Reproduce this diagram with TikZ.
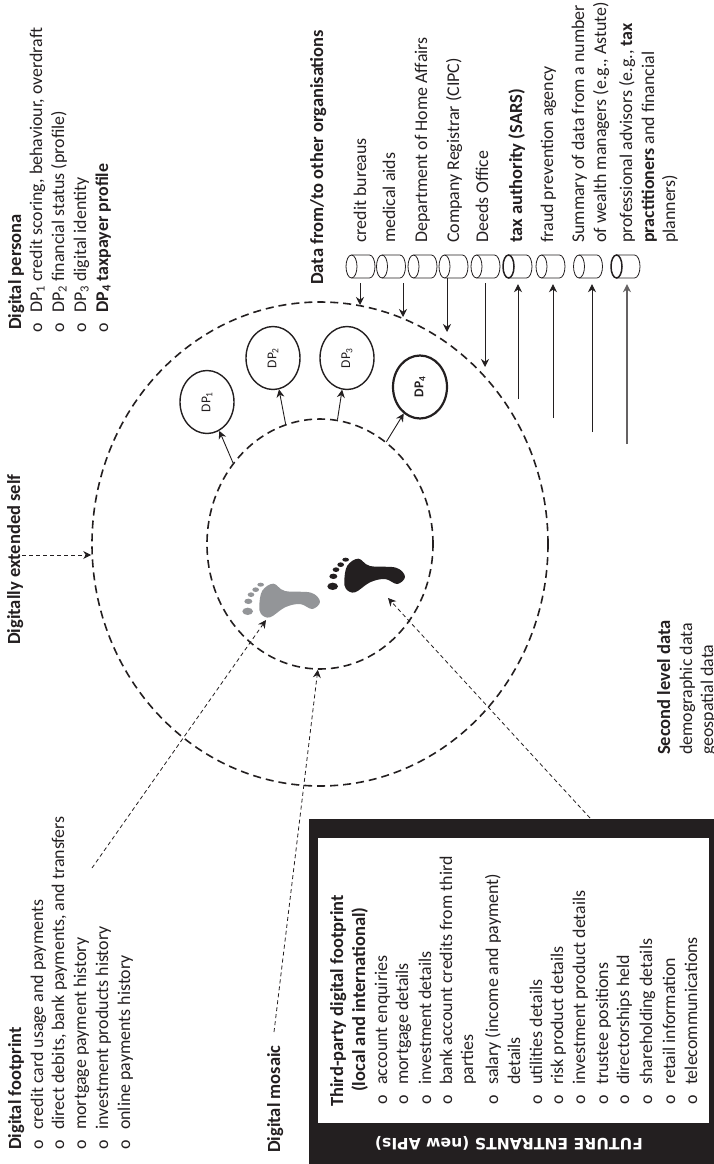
\documentclass[tikz,border=0pt]{standalone}
\usepackage{fontspec}
\setmainfont{Carlito}
\newfontfamily\bannerfont{DejaVu Sans}
\usetikzlibrary{shapes.geometric, arrows.meta}
\definecolor{inkblack}{HTML}{231F20}
\definecolor{footgrey}{HTML}{939598}
\newcommand{\bul}{\makebox[20pt][l]{o}}
\tikzstyle{vtext} = [
    rotate=90,
    anchor=base west,
    inner sep=0pt,
    text=inkblack,
    font=\fontsize{17.9}{21}\selectfont
]
\tikzstyle{vhead} = [
    vtext,
    font=\fontsize{18.5}{22}\selectfont\bfseries
]
\tikzstyle{ring} = [
    ellipse,
    draw=inkblack,
    line width=1.6pt,
    dash pattern=on 8pt off 5pt,
    inner sep=0pt
]
\tikzstyle{persona} = [
    ellipse,
    draw=inkblack,
    line width=1.4pt,
    minimum width=54pt,
    minimum height=63pt,
    inner sep=0pt,
    text=inkblack,
    font=\fontsize{13.5}{15}\selectfont
]
\tikzstyle{store} = [
    rectangle,
    minimum width=29pt,
    minimum height=23pt,
    inner sep=0pt
]
\tikzstyle{arrow} = [
    draw=inkblack,
    line width=0.9pt,
    ->
]
\tikzstyle{dasharrow} = [
    draw=inkblack,
    line width=0.8pt,
    dash pattern=on 4pt off 3pt,
    ->
]
\begin{document}
\begin{tikzpicture}[x=1pt, y=-1pt, >={Stealth[length=8pt,width=8pt]}]
        \useasboundingbox (0,0) rectangle (714,1164);

        % third-party box
        \fill[inkblack] (309,819) rectangle (714,1164);
        \fill[white] (318,838) rectangle (709,1123);
        \node (entrants) [rotate=180, text=white, inner sep=0pt, font=\bannerfont\fontsize{15.6}{18}\selectfont\bfseries] at (509,1143) {FUTURE ENTRANTS (new APIs)};

        % rings and personas
        \node (outer) [ring, minimum width=456pt, minimum height=484pt] at (320,544) {};
        \node (inner) [ring, minimum width=226pt, minimum height=250pt] at (320,544) {};
        \node (dp1) [persona] at (207,402) {\rotatebox{90}{DP\textsubscript{1}}};
        \node (dp2) [persona] at (273,358) {\rotatebox{90}{DP\textsubscript{2}}};
        \node (dp3) [persona] at (347,358) {\rotatebox{90}{DP\textsubscript{3}}};
        \node (dp4) [persona, line width=2.2pt, font=\fontsize{13.5}{15}\selectfont\bfseries] at (420,387) {\rotatebox{90}{DP\textsubscript{4}}};

        \draw[arrow] (inner.137) -- (dp1);
        \draw[arrow] (inner.106) -- (dp2);
        \draw[arrow] (inner.82) -- (dp3);
        \draw[arrow] (inner.57) -- (dp4);

        % feet
        \foreach \fx/\fy/\col in {235/570/footgrey, 320/545/inkblack} {
            \begin{scope}[shift={(\fx,\fy)}, x=0.3333pt, y=-0.3333pt]
                \fill[\col] plot[smooth cycle, tension=0.6] coordinates {(73,105) (82,62) (115,41) (150,63) (228,68) (255,95) (232,117) (195,102) (150,112) (105,142) (78,132)};
                \fill[\col] (38,124) ellipse [x radius=16, y radius=11];
                \fill[\col] (40,94) ellipse [x radius=12, y radius=8];
                \fill[\col] (48,74) ellipse [x radius=10, y radius=7];
                \fill[\col] (62,59) ellipse [x radius=10, y radius=7];
                \fill[\col] (77,44) ellipse [x radius=10, y radius=6];
            \end{scope}
        }

        % digital persona
        \node (personahead) [vhead] at (21,330) {Digital persona};
        \node (persona1) [vtext] at (42,333) {\bul DP\textsubscript{1} credit scoring, behaviour, overdraft};
        \node (persona2) [vtext] at (64,333) {\bul DP\textsubscript{2} financial status (profile)};
        \node (persona3) [vtext] at (86,333) {\bul DP\textsubscript{3} digital identity};
        \node (persona4) [vtext] at (108,333) {\bul \textbf{DP\textsubscript{4} taxpayer profile}};

        % digitally extended self
        \node (selfhead) [vhead] at (20,645) {Digitally extended self};
        \coordinate (selfstart) at (22,555);
        \draw[dasharrow] (selfstart) -- (outer.west |- selfstart);

        % digital footprint
        \node (printhead) [vhead] at (21,1150) {Digital footprint};
        \node (print1) [vtext] at (43,1150) {\bul credit card usage and payments};
        \node (print2) [vtext] at (64,1150) {\bul direct debits, bank payments, and transfers};
        \node (print3) [vtext] at (86,1150) {\bul mortgage payment history};
        \node (print4) [vtext] at (108,1150) {\bul investment products history};
        \node (print5) [vtext] at (130,1150) {\bul online payments history};
        \coordinate (printstart) at (92,868);
        \coordinate (printend) at (266,620);
        \draw[dasharrow] (printstart) -- (printend);

        % digital mosaic
        \node (mosaichead) [vhead] at (280,1153) {Digital mosaic};
        \coordinate (mosaicstart) at (274,1032);
        \draw[dasharrow] (mosaicstart) -- (inner.269);

        % third-party list
        \node (thirdhead) [vhead] at (343,1107) {Third-party digital footprint};
        \node (thirdsub) [vhead] at (365,1092) {(local and international)};
        \node (third1) [vtext] at (387,1105) {\bul account enquiries};
        \node (third2) [vtext] at (408,1105) {\bul mortgage details};
        \node (third3) [vtext] at (431,1105) {\bul investment details};
        \node (third4) [vtext] at (452,1105) {\bul bank account credits from third};
        \node (third4b) [vtext] at (473,1085) {parties};
        \node (third5) [vtext] at (498,1105) {\bul salary (income and payment)};
        \node (third5b) [vtext] at (520,1085) {details};
        \node (third6) [vtext] at (542,1105) {\bul utilities details};
        \node (third7) [vtext] at (563,1105) {\bul risk product details};
        \node (third8) [vtext] at (585,1105) {\bul investment product details};
        \node (third9) [vtext] at (608,1105) {\bul trustee positions};
        \node (third10) [vtext] at (629,1105) {\bul directorships held};
        \node (third11) [vtext] at (652,1105) {\bul shareholding details};
        \node (third12) [vtext] at (675,1105) {\bul retail information};
        \node (third13) [vtext] at (697,1105) {\bul telecommunications};
        \coordinate (thirdstart) at (590,818);
        \coordinate (thirdend) at (388,598);
        \draw[dasharrow] (thirdstart) -- (thirdend);

        % second level data
        \node (secondhead) [vhead] at (670,755) {Second level data};
        \node (second1) [vtext] at (692,755) {demographic data};
        \node (second2) [vtext] at (713,755) {geospatial data};

        % data stores
        \node (datahead) [vhead] at (323,285) {Data from/to other organisations};
        \foreach \n/\cx/\lw in {1/360.5/0.8pt, 2/391/0.8pt, 3/422.5/0.8pt, 4/453.5/0.8pt, 5/485.5/0.8pt, 6/517.5/1.5pt, 7/550.5/0.8pt, 8/588/0.8pt, 9/625.5/1.5pt} {
            \node (cyl\n) [store] at (\cx,266.5) {};
            \draw[inkblack, line width=\lw] (\cx-9,266.5) ellipse [x radius=5.5pt, y radius=11.5pt];
            \draw[inkblack, line width=0.8pt] (\cx-9,255) -- (\cx+9,255) arc [start angle=90, end angle=-90, x radius=5.5pt, y radius=11.5pt] -- (\cx-9,278);
        }

        \node (data1) [vtext] at (366,243) {credit bureaus};
        \node (data2) [vtext] at (395,243) {medical aids};
        \node (data3) [vtext] at (427,243) {Department of Home Affairs};
        \node (data4) [vtext] at (459,243) {Company Registrar (CIPC)};
        \node (data5) [vtext] at (488,243) {Deeds Office};
        \node (data6) [vhead] at (522,243) {tax authority (SARS)};
        \node (data7) [vtext] at (553,243) {fraud prevention agency};
        \node (data8) [vtext] at (584,243) {Summary of data from a number};
        \node (data8b) [vtext] at (606,243) {of wealth managers (e.g., Astute)};
        \node (data9) [vtext] at (632,243) {professional advisors (e.g., \textbf{tax}};
        \node (data9b) [vtext] at (654,243) {\textbf{practitioners} and financial};
        \node (data9c) [vtext] at (675,243) {planners)};

        \coordinate (end1) at (360,305);
        \coordinate (end2) at (403,317);
        \coordinate (end4) at (447,332);
        \coordinate (end5) at (485,367);
        \coordinate (start6) at (518,399);
        \coordinate (start7) at (553,418);
        \coordinate (start8) at (592,432);
        \coordinate (start9) at (627,444);

        \draw[arrow, shorten <=5pt] (cyl1.south -| end1) -- (end1);
        \draw[arrow, shorten <=5pt] (cyl2.south -| end2) -- (end2);
        \draw[arrow] (cyl4.south -| end4) -- (end4);
        \draw[arrow, shorten <=5pt] (cyl5.south -| end5) -- (end5);
        \draw[arrow, shorten >=6pt] (start6) -- (start6 |- cyl6.south);
        \draw[arrow, shorten >=6pt] (start7) -- (start7 |- cyl7.south);
        \draw[arrow, shorten >=6pt] (start8) -- (start8 |- cyl8.south);
        \draw[arrow, shorten >=6pt, line width=1.2pt, draw=inkblack!70] (start9) -- (start9 |- cyl9.south);
    \end{tikzpicture}
\end{document}
